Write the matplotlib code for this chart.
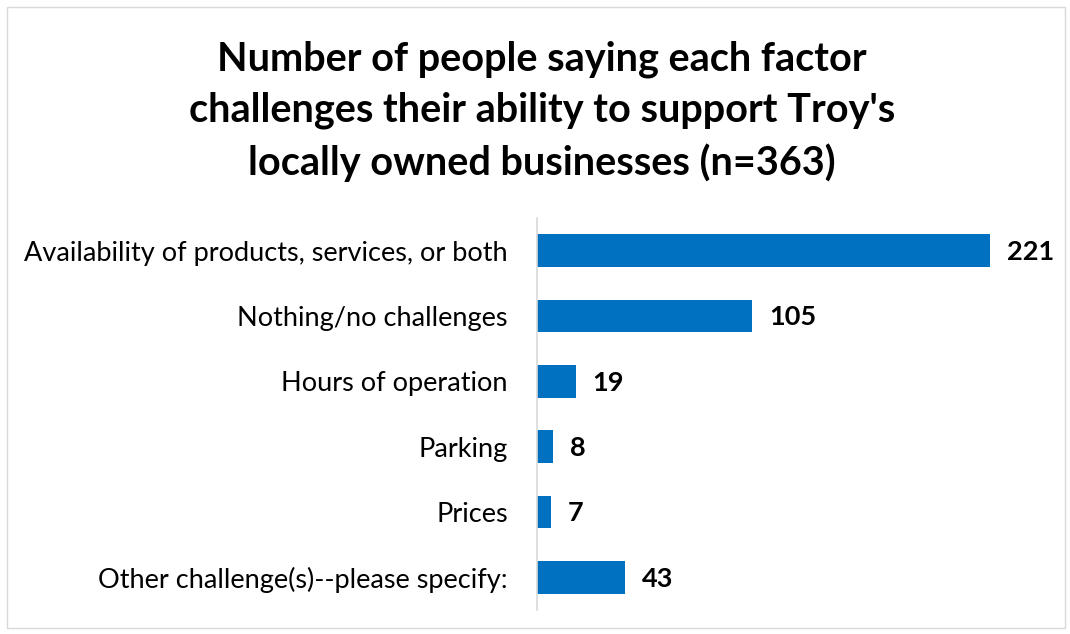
import matplotlib
matplotlib.use("Agg")
import matplotlib.pyplot as plt
from matplotlib.patches import Rectangle

categories = ["Availability of products, services, or both", "Nothing/no challenges",
              "Hours of operation", "Parking", "Prices", "Other challenge(s)--please specify:"]
values = [221, 105, 19, 8, 7, 43]
title = "Number of people saying each factor\nchallenges their ability to support Troy's\nlocally owned businesses (n=363)"

plt.rcParams['font.family'] = ['Lato', 'DejaVu Sans']
W, H = 1070, 634
fig = plt.figure(figsize=(W / 100, H / 100), dpi=100)
fig.patches.append(Rectangle((7 / W, 6 / H), 1058 / W, 621 / H, transform=fig.transFigure,
                             fill=False, edgecolor='#d9d9d9', linewidth=1))

ax = fig.add_axes([537 / W, 1 - 610 / H, (1050 - 537) / W, (610 - 218) / H])
y = list(range(len(categories)))
ax.barh(y, values, height=0.5, color='#0070C0')
ax.set_xlim(0, 250)
ax.set_ylim(len(categories) - 0.5, -0.5)
ax.set_yticks(y)
ax.set_yticklabels(categories, fontsize=19.5)
ax.tick_params(axis='y', length=0, pad=21)
ax.set_xticks([])
for s in ['top', 'right', 'bottom']:
    ax.spines[s].set_visible(False)
ax.spines['left'].set_color('#d9d9d9')
ax.spines['left'].set_linewidth(1.2)
for yi, v in zip(y, values):
    ax.annotate(str(v), (v, yi), xytext=(12, -1), textcoords='offset points',
                va='center', ha='left', fontsize=19.5, fontweight='bold')

fig.text(542 / W, 1 - 111 / H, title, ha='center', va='center', fontsize=28.5,
         fontweight='bold', linespacing=1.46)

fig.savefig("out.png", dpi=100)
